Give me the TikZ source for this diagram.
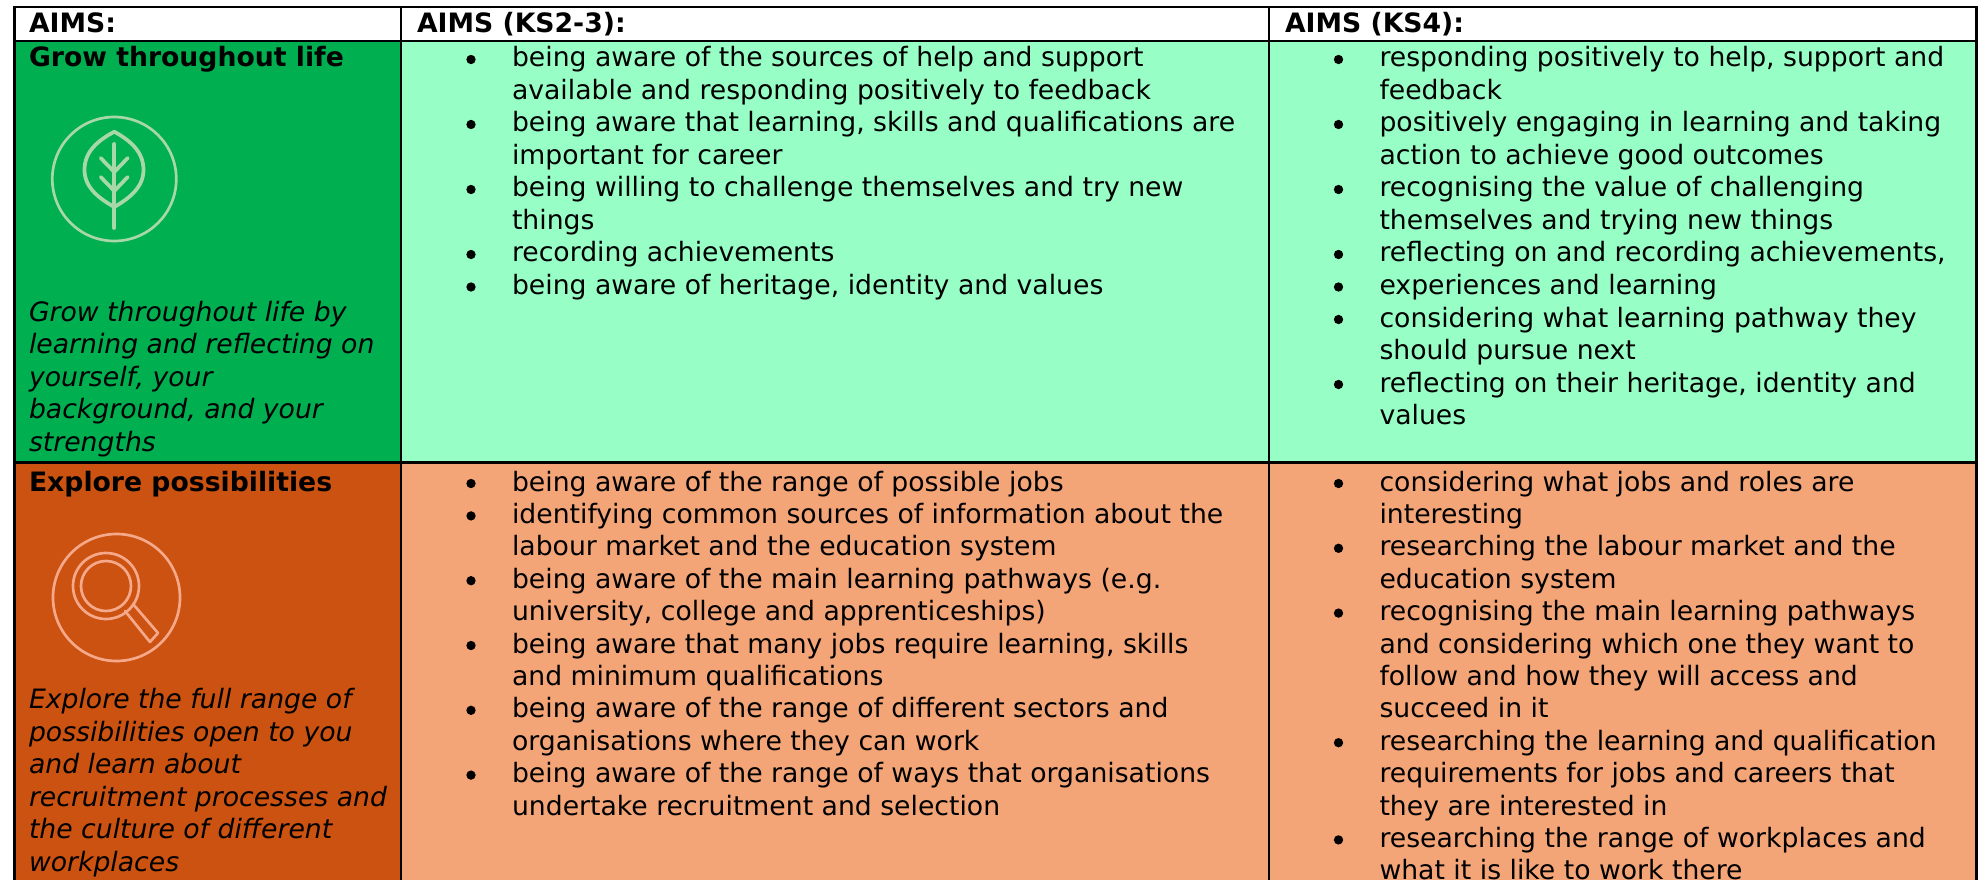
\documentclass[tikz,border=0pt]{standalone}
\usepackage{fontspec}
\setmainfont{DejaVu Sans}
\definecolor{grn}{HTML}{00AF50}
\definecolor{lgrn}{HTML}{97FFC5}
\definecolor{org}{HTML}{CB5210}
\definecolor{lorg}{HTML}{F4A578}
\definecolor{icg}{HTML}{A8D8A8}
\definecolor{ico}{HTML}{F6A98A}
\newcounter{tn}
\tikzset{x=0.75pt,y=-0.75pt,
 txt/.style={anchor=base west,inner sep=0pt,outer sep=0pt,font=\fontsize{20}{24}\selectfont},
 hd/.style={txt,font=\fontsize{20}{24}\selectfont\bfseries},
 it/.style={txt,font=\fontsize{20}{24}\selectfont\itshape},
 rule/.style={line width=1.8pt,black},
 bul/.style={circle,fill=black,inner sep=0pt,minimum size=7pt},
 ic/.style={line width=2pt,line cap=round,line join=round},
 icb/.style={line width=2.8pt,line cap=round,line join=round}}
\newcommand\tl[4][txt]{\stepcounter{tn}\node[#1] (t\arabic{tn}) at (#2,#3) {#4};}
\newcommand\bl[3]{\stepcounter{tn}\node[bul] (b\arabic{tn}) at (#1,#2-7.5) {}; \tl{#1+41}{#2}{#3}}
\newcommand\cl[3]{\tl{#1+41}{#2}{#3}}
\begin{document}
\begin{tikzpicture}
\useasboundingbox (0,0) rectangle (1979,880);
\fill[white] (0,0) rectangle (1979,880);
\fill[grn] (14,41) rectangle (401,462.5);
\fill[lgrn] (401,41) rectangle (1976,462.5);
\fill[org] (14,462.5) rectangle (401,880);
\fill[lorg] (401,462.5) rectangle (1976,880);
\draw[rule] (14.3,880) -- (14.3,7) -- (1976.5,7) -- (1976.5,880);
\draw[rule] (14,41) -- (1976,41);
\draw[rule] (14,462.5) -- (1976,462.5);
\draw[rule] (401,7) -- (401,880);
\draw[rule] (1269,7) -- (1269,880);
% leaf icon
\draw[ic,icg] (114.3,179) circle (62);
\begin{scope}[icb,icg]
\draw (114.3,131.7) .. controls (131,141) and (143.5,152) .. (143.5,170) .. controls (143.5,188) and (128,199) .. (114.3,207) .. controls (100,199) and (84.5,188) .. (84.5,170) .. controls (84.5,152) and (97,141) .. (114.3,131.7) -- cycle;
\draw (114.3,144) -- (114.3,228);
\draw (100.7,158) -- (114.3,172) -- (127.7,158);
\draw (100.7,177) -- (114.3,191) -- (127.7,177);
\end{scope}
% magnifier icon
\begin{scope}[ic,ico]
\draw (116.5,597.5) circle (63.5);
\draw (106,586) circle (33);
\draw (106,586) circle (25);
\draw (125,611) -- (150,642) -- (158,633) -- (133,604);
\end{scope}
% headers
\tl[hd]{29}{33}{AIMS:}
\tl[hd]{417}{33}{AIMS (KS2-3):}
\tl[hd]{1285}{33}{AIMS (KS4):}
% col 1
\tl[hd]{29}{67}{Grow throughout life}
\tl[it]{29}{321}{Grow throughout life by}
\tl[it]{29}{353.5}{learning and reflecting on}
\tl[it]{29}{386}{yourself, your}
\tl[it]{29}{418.5}{background, and your}
\tl[it]{29}{451}{strengths}
\tl[hd]{29}{491}{Explore possibilities}
\tl[it]{29}{708.5}{Explore the full range of}
\tl[it]{29}{741}{possibilities open to you}
\tl[it]{29}{773.5}{and learn about}
\tl[it]{29}{806}{recruitment processes and}
\tl[it]{29}{838.5}{the culture of different}
\tl[it]{29}{871}{workplaces}
% col 2 row 1
\bl{471}{67}{being aware of the sources of help and support}
\cl{471}{99.5}{available and responding positively to feedback}
\bl{471}{132}{being aware that learning, skills and qualifications are}
\cl{471}{164.5}{important for career}
\bl{471}{197}{being willing to challenge themselves and try new}
\cl{471}{229.5}{things}
\bl{471}{262}{recording achievements}
\bl{471}{294.5}{being aware of heritage, identity and values}
% col 3 row 1
\bl{1338.5}{67}{responding positively to help, support and}
\cl{1338.5}{99.5}{feedback}
\bl{1338.5}{132}{positively engaging in learning and taking}
\cl{1338.5}{164.5}{action to achieve good outcomes}
\bl{1338.5}{197}{recognising the value of challenging}
\cl{1338.5}{229.5}{themselves and trying new things}
\bl{1338.5}{262}{reflecting on and recording achievements,}
\bl{1338.5}{294.5}{experiences and learning}
\bl{1338.5}{327}{considering what learning pathway they}
\cl{1338.5}{359.5}{should pursue next}
\bl{1338.5}{392}{reflecting on their heritage, identity and}
\cl{1338.5}{424.5}{values}
% col 2 row 2
\bl{471}{491}{being aware of the range of possible jobs}
\bl{471}{523.4}{identifying common sources of information about the}
\cl{471}{555.8}{labour market and the education system}
\bl{471}{588.2}{being aware of the main learning pathways (e.g.}
\cl{471}{620.6}{university, college and apprenticeships)}
\bl{471}{653}{being aware that many jobs require learning, skills}
\cl{471}{685.4}{and minimum qualifications}
\bl{471}{717.8}{being aware of the range of different sectors and}
\cl{471}{750.2}{organisations where they can work}
\bl{471}{782.6}{being aware of the range of ways that organisations}
\cl{471}{815}{undertake recruitment and selection}
% col 3 row 2
\bl{1338.5}{491}{considering what jobs and roles are}
\cl{1338.5}{523.4}{interesting}
\bl{1338.5}{555.8}{researching the labour market and the}
\cl{1338.5}{588.2}{education system}
\bl{1338.5}{620.6}{recognising the main learning pathways}
\cl{1338.5}{653}{and considering which one they want to}
\cl{1338.5}{685.4}{follow and how they will access and}
\cl{1338.5}{717.8}{succeed in it}
\bl{1338.5}{750.2}{researching the learning and qualification}
\cl{1338.5}{782.6}{requirements for jobs and careers that}
\cl{1338.5}{815}{they are interested in}
\bl{1338.5}{847.4}{researching the range of workplaces and}
\cl{1338.5}{879.8}{what it is like to work there}
\end{tikzpicture}
\end{document}
